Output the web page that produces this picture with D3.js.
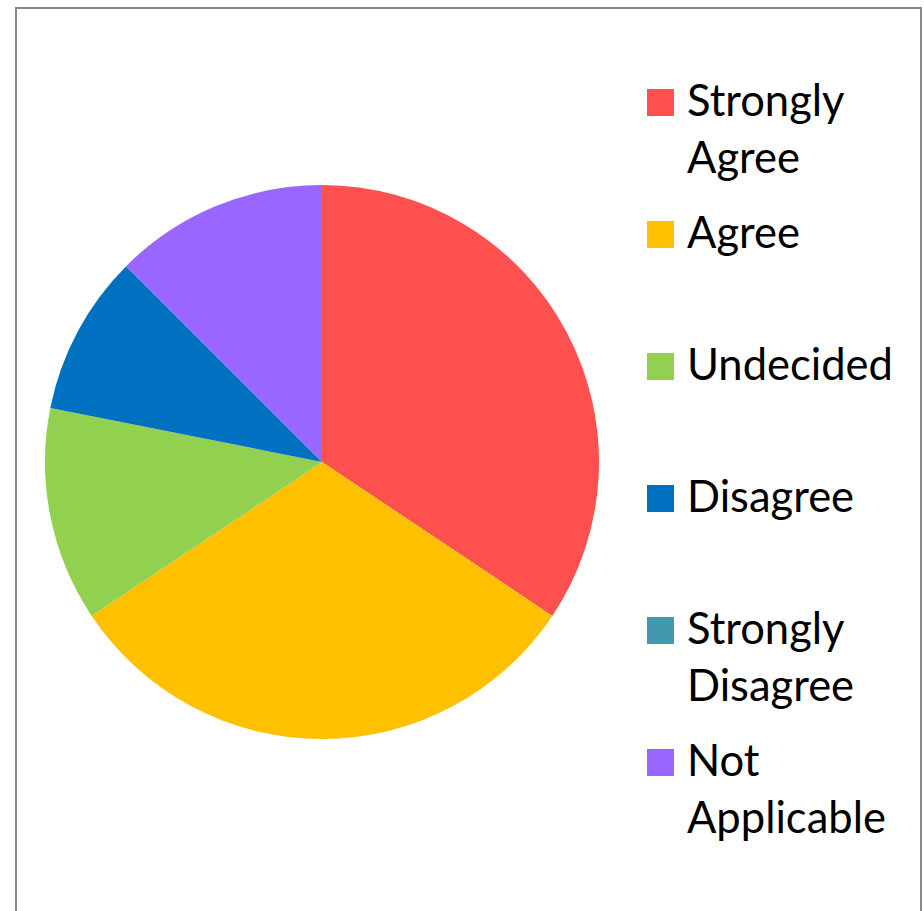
<!DOCTYPE html>
<html lang="en">
<head>
    <meta charset="UTF-8">
    <title>Survey pie</title>
    <script src="https://d3js.org/d3.v7.min.js"></script>
    <style>
        body { margin: 0; background: #fff; }
        .legend text { font-family: Lato, "Open Sans", sans-serif; fill: #000; }
    </style>
</head>
<body>
    <script>
        // data (counts, 32 answers)
        var categories = ['Strongly Agree', 'Agree', 'Undecided', 'Disagree', 'Strongly Disagree', 'Not Applicable']
        var counts = [11, 10, 4, 3, 0, 4]
        var colors = ['#FF5050', '#FFC000', '#92D050', '#0070C0', '#4198AF', '#9966FF']
        var legendLines = [['Strongly', 'Agree'], ['Agree'], ['Undecided'], ['Disagree'], ['Strongly', 'Disagree'], ['Not', 'Applicable']]

        var w = 924, h = 911
        var svg = d3.select('body')
                    .append('svg')
                    .attr('width', w)
                    .attr('height', h)

        //frame
        svg.append('rect')
            .attr('x', 16)
            .attr('y', 8)
            .attr('width', 905)
            .attr('height', 920)
            .attr('fill', 'none')
            .attr('stroke', '#888')
            .attr('stroke-width', 2)

        //pie
        var cx = 322, cy = 462, r = 277
        var pie = d3.pie().sort(null).value(d => d)
        var arc = d3.arc().innerRadius(0).outerRadius(r)

        var g = svg.append('g').attr('transform', 'translate(' + cx + ',' + cy + ')')
        g.selectAll('path')
            .data(pie(counts))
            .enter()
            .append('path')
            .attr('d', arc)
            .attr('fill', (d, i) => colors[i])

        //legend
        var step = d3.scaleLinear().domain([0, 1]).range([89, 221])
        var legend = svg.append('g').attr('class', 'legend')
        var items = legend.selectAll('g')
            .data(categories)
            .enter()
            .append('g')
            .attr('transform', (d, i) => 'translate(647,' + step(i) + ')')

        items.append('rect')
            .attr('width', 27)
            .attr('height', 27)
            .attr('fill', (d, i) => colors[i])

        // fit the font so the widest label matches the picture
        var probe = legend.append('text').style('font-size', '100px').text('Undecided')
        var fs = 100 * 206 / probe.node().getComputedTextLength()
        probe.remove()

        items.each(function (d, i) {
            var t = d3.select(this).append('text')
                .attr('x', 40)
                .attr('y', 27)
                .style('font-size', fs + 'px')
            legendLines[i].forEach((line, k) => {
                t.append('tspan').attr('x', 40).attr('y', 27 + k * 57).text(line)
            })
        })
    </script>
</body>
</html>
